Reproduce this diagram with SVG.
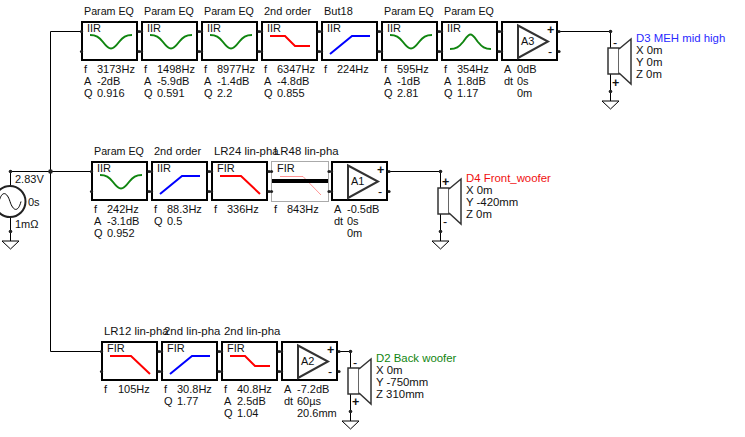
<svg xmlns="http://www.w3.org/2000/svg" xmlns:xlink="http://www.w3.org/1999/xlink" width="745" height="437" viewBox="0 0 745 437">
<style>
text{font-family:"Liberation Sans",Arial,sans-serif;font-size:11px;fill:#111}
.b{fill:#fff;stroke:#000;stroke-width:2}
.w{fill:none;stroke:#000;stroke-width:1}
.c{fill:none;stroke-width:2}
.g{stroke:#108510}.r{stroke:#f00}.u{stroke:#00f}
.d{fill:#222}
.s{fill:#fff;stroke:#333;stroke-width:1.500}
.p{font-size:12.500px}
.l{font-size:11.400px}
.t{font-size:10.700px}
</style>
<defs>
<g id="box"><rect class="b" x="2" y="2" width="55" height="38"/><circle class="d" cx="1.500" cy="11.500" r="1.600"/><circle class="d" cx="1.500" cy="31.500" r="1.600"/><circle class="d" cx="59" cy="11.500" r="1.600"/><circle class="d" cx="59" cy="31.500" r="1.600"/></g>
<path id="dip" class="c g" d="M10 15C16 15 19 17 23 22C26 26 28 28.500 31 28.500C34 28.500 36 26 39 22C43 17 46 15 52 15"/>
<path id="peak" class="c g" d="M10 29C16 29 19 27 23 22C26 18 28 14.500 30.500 14.500C33 14.500 35 18 38 22C42 27 45 29 51 29"/>
<g id="gnd"><path class="w" d="M-8.500 0H8.500L0 8Z" stroke-width="1.500"/></g>
<g id="amp"><path d="M18 5.500L48 21.500L18 38Z" fill="none" stroke="#333" stroke-width="2"/></g>
</defs>

<g id="connectors">
<path class="w" d="M81 31.500H50.500V351.500H101M10.500 171.500H91"/>
<path class="w" d="M10.500 171.500V186M10.500 217V241"/>
<path class="w" d="M559 31.500H610.500V48M610.500 74V101"/>
<path class="w" d="M389 171.500H440.500V188M440.500 214V241"/>
<path class="w" d="M339 351.500H350.500V368M350.500 394V421"/>
<circle class="d" cx="50.500" cy="171.500" r="2.300"/><circle class="d" cx="10.500" cy="171.500" r="1.800"/><circle class="d" cx="10.500" cy="231.500" r="1.800"/>
<circle class="d" cx="610.500" cy="31.500" r="1.800"/><circle class="d" cx="610.500" cy="91.500" r="1.800"/>
<circle class="d" cx="440.500" cy="171.500" r="1.800"/><circle class="d" cx="440.500" cy="231.500" r="1.800"/>
<circle class="d" cx="350.500" cy="351.500" r="1.800"/><circle class="d" cx="350.500" cy="411.500" r="1.800"/>
</g>

<g id="source">
<circle cx="10" cy="201.500" r="15.500" fill="#fff" stroke="#222" stroke-width="2"/>
<path class="w" d="M-1 201.500C2 190 7 192 10 201.500C13 211 18 213 21 201.500" stroke-width="1.500"/>
<use xlink:href="#gnd" x="10.500" y="241"/>
<text x="15" y="183">2.83V</text><text x="28" y="206">0s</text><text x="15" y="228">1mΩ</text>
</g>

<g id="n1" transform="translate(80 20)"><use xlink:href="#box"/><use xlink:href="#dip"/><text x="7" y="12">IIR</text><text class="t" x="4" y="-5">Param EQ</text><text x="4" y="53">f</text><text x="17" y="53">3173Hz</text><text x="4" y="65">A</text><text x="17" y="65">-2dB</text><text x="4" y="77">Q</text><text x="17" y="77">0.916</text></g>
<g id="n2" transform="translate(140 20)"><use xlink:href="#box"/><use xlink:href="#dip"/><text x="7" y="12">IIR</text><text class="t" x="4" y="-5">Param EQ</text><text x="4" y="53">f</text><text x="17" y="53">1498Hz</text><text x="4" y="65">A</text><text x="17" y="65">-5.9dB</text><text x="4" y="77">Q</text><text x="17" y="77">0.591</text></g>
<g id="n3" transform="translate(200 20)"><use xlink:href="#box"/><use xlink:href="#dip"/><text x="7" y="12">IIR</text><text class="t" x="4" y="-5">Param EQ</text><text x="4" y="53">f</text><text x="17" y="53">8977Hz</text><text x="4" y="65">A</text><text x="17" y="65">-1.4dB</text><text x="4" y="77">Q</text><text x="17" y="77">2.2</text></g>
<g id="n4" transform="translate(260 20)"><use xlink:href="#box"/><path class="c r" d="M10 16H25L35 26H50"/><text x="7" y="12">IIR</text><text x="4" y="-5">2nd order</text><text x="4" y="53">f</text><text x="17" y="53">6347Hz</text><text x="4" y="65">A</text><text x="17" y="65">-4.8dB</text><text x="4" y="77">Q</text><text x="17" y="77">0.855</text></g>
<g id="n5" transform="translate(320 20)"><use xlink:href="#box"/><path class="c u" d="M10 34L32 16H50"/><text x="7" y="12">IIR</text><text x="4" y="-5">But18</text><text x="4" y="53">f</text><text x="17" y="53">224Hz</text></g>
<g id="n6" transform="translate(380 20)"><use xlink:href="#box"/><use xlink:href="#dip"/><text x="7" y="12">IIR</text><text class="t" x="4" y="-5">Param EQ</text><text x="4" y="53">f</text><text x="17" y="53">595Hz</text><text x="4" y="65">A</text><text x="17" y="65">-1dB</text><text x="4" y="77">Q</text><text x="17" y="77">2.81</text></g>
<g id="n7" transform="translate(440 20)"><use xlink:href="#box"/><use xlink:href="#peak"/><text x="7" y="12">IIR</text><text class="t" x="4" y="-5">Param EQ</text><text x="4" y="53">f</text><text x="17" y="53">354Hz</text><text x="4" y="65">A</text><text x="17" y="65">1.8dB</text><text x="4" y="77">Q</text><text x="17" y="77">1.17</text></g>
<g id="a3" transform="translate(500 20)"><use xlink:href="#box"/><use xlink:href="#amp"/><text x="21" y="25">A3</text><text class="p" x="47" y="14" font-weight="bold">+</text><text class="p" x="48" y="36">-</text><text x="4" y="53">A</text><text x="17" y="53">0dB</text><text x="4" y="65">dt</text><text x="17" y="65">0s</text><text x="17" y="77">0m</text></g>
<g id="d3"><rect class="s" x="608" y="48" width="11" height="26"/><path class="s" d="M619 49L631 39V84L619 73" fill="none"/><text class="p" x="613" y="47">-</text><text class="p" x="612" y="87" font-weight="bold">+</text><text class="l" x="636" y="42" style="fill:#2a2aff">D3 MEH mid high</text><text class="l" x="636" y="54">X 0m</text><text class="l" x="636" y="66">Y 0m</text><text class="l" x="636" y="78">Z 0m</text><use xlink:href="#gnd" x="610.500" y="101"/></g>

<g id="n8" transform="translate(90 160)"><use xlink:href="#box"/><use xlink:href="#dip"/><text x="7" y="12">IIR</text><text class="t" x="4" y="-5">Param EQ</text><text x="4" y="53">f</text><text x="17" y="53">242Hz</text><text x="4" y="65">A</text><text x="17" y="65">-3.1dB</text><text x="4" y="77">Q</text><text x="17" y="77">0.952</text></g>
<g id="n9" transform="translate(150 160)"><use xlink:href="#box"/><path class="c u" d="M10 34L32 16H50"/><text x="7" y="12">IIR</text><text x="4" y="-5">2nd order</text><text x="4" y="53">f</text><text x="17" y="53">88.3Hz</text><text x="4" y="65">Q</text><text x="17" y="65">0.5</text></g>
<g id="n10" transform="translate(210 160)"><use xlink:href="#box"/><path class="c r" d="M10 16H31L50 34"/><text x="7" y="12">FIR</text><text class="l" x="4" y="-5">LR24 lin-pha</text><text x="4" y="53">f</text><text x="17" y="53">336Hz</text></g>
<g id="n11" transform="translate(270 160)"><rect x="1.500" y="1.500" width="57" height="40" fill="#fff" stroke="#aaa"/><path d="M10 16.500H33L51 35" fill="none" stroke="#f66" stroke-width="0.700"/><path d="M2 21H58" stroke="#000" stroke-width="4"/><circle class="d" cx="1.500" cy="11.500" r="1.600"/><circle class="d" cx="1.500" cy="31.500" r="1.600"/><circle class="d" cx="59" cy="11.500" r="1.600"/><circle class="d" cx="59" cy="31.500" r="1.600"/><text x="7" y="12">FIR</text><text class="l" x="4" y="-5">LR48 lin-pha</text><text x="4" y="53">f</text><text x="17" y="53">843Hz</text></g>
<g id="a1" transform="translate(330 160)"><use xlink:href="#box"/><use xlink:href="#amp"/><text x="21" y="25">A1</text><text class="p" x="47" y="14" font-weight="bold">+</text><text class="p" x="48" y="36">-</text><text x="4" y="53">A</text><text x="17" y="53">-0.5dB</text><text x="4" y="65">dt</text><text x="17" y="65">0s</text><text x="17" y="77">0m</text></g>
<g id="d4"><rect class="s" x="438" y="188" width="11" height="26"/><path class="s" d="M449 189L461 179V224L449 213" fill="none"/><text class="p" x="442" y="186" font-weight="bold">+</text><text class="p" x="443" y="226">-</text><text class="l" x="466" y="182" style="fill:#f01010">D4 Front_woofer</text><text class="l" x="466" y="194">X 0m</text><text class="l" x="466" y="206">Y -420mm</text><text class="l" x="466" y="218">Z 0m</text><use xlink:href="#gnd" x="440.500" y="241"/></g>

<g id="n12" transform="translate(100 340)"><use xlink:href="#box"/><path class="c r" d="M10 16H31L50 34"/><text x="7" y="12">FIR</text><text class="l" x="4" y="-5">LR12 lin-pha</text><text x="4" y="53">f</text><text x="18" y="53">105Hz</text></g>
<g id="n13" transform="translate(160 340)"><use xlink:href="#box"/><path class="c u" d="M10 34L32 16H50"/><text x="7" y="12">FIR</text><text class="l" x="4" y="-5">2nd lin-pha</text><text x="4" y="53">f</text><text x="17" y="53">30.8Hz</text><text x="4" y="65">Q</text><text x="17" y="65">1.77</text></g>
<g id="n14" transform="translate(220 340)"><use xlink:href="#box"/><path class="c r" d="M10 16H25L35 26H50"/><text x="7" y="12">FIR</text><text class="l" x="4" y="-5">2nd lin-pha</text><text x="4" y="53">f</text><text x="17" y="53">40.8Hz</text><text x="4" y="65">A</text><text x="17" y="65">2.5dB</text><text x="4" y="77">Q</text><text x="17" y="77">1.04</text></g>
<g id="a2" transform="translate(280 340)"><use xlink:href="#box"/><use xlink:href="#amp"/><text x="21" y="25">A2</text><text class="p" x="47" y="14" font-weight="bold">+</text><text class="p" x="48" y="36">-</text><text x="4" y="53">A</text><text x="17" y="53">-7.2dB</text><text x="4" y="65">dt</text><text x="17" y="65">60µs</text><text x="17" y="77">20.6mm</text></g>
<g id="d2"><rect class="s" x="348" y="368" width="11" height="26"/><path class="s" d="M359 369L371 359V404L359 393" fill="none"/><text class="p" x="353" y="367">-</text><text class="p" x="352" y="406" font-weight="bold">+</text><text class="l" x="376" y="362" style="fill:#108510">D2 Back woofer</text><text class="l" x="376" y="374">X 0m</text><text class="l" x="376" y="386">Y -750mm</text><text class="l" x="376" y="398">Z 310mm</text><use xlink:href="#gnd" x="350.500" y="421"/></g>
</svg>
